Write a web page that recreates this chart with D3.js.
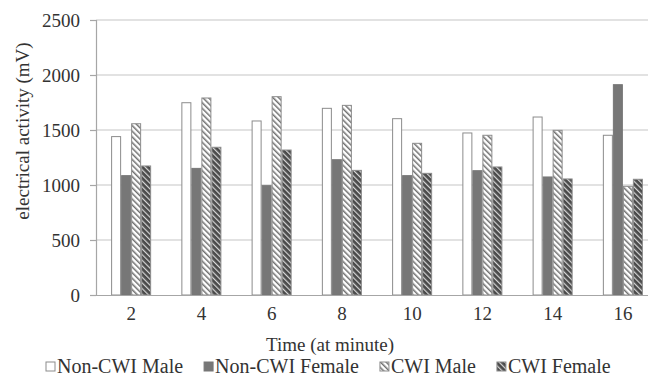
<!DOCTYPE html>
<html>
<head>
<meta charset="utf-8">
<script src="https://cdn.jsdelivr.net/npm/d3@7"></script>
</head>
<body style="margin:0; background:#fff">
<svg id="chart" width="648" height="378"></svg>
<script>
// Data
const minutes = ["2", "4", "6", "8", "10", "12", "14", "16"];
const seriesNames = ["Non-CWI Male", "Non-CWI Female", "CWI Male", "CWI Female"];
const nonCwiMale = [1440, 1748, 1582, 1697, 1603, 1473, 1618, 1452];
const nonCwiFemale = [1085, 1151, 994, 1230, 1085, 1130, 1073, 1912];
const cwiMale = [1557, 1791, 1803, 1724, 1379, 1452, 1497, 988];
const cwiFemale = [1173, 1343, 1318, 1133, 1106, 1164, 1055, 1052];
const yTicks = [0, 500, 1000, 1500, 2000, 2500];

const seriesValues = [nonCwiMale, nonCwiFemale, cwiMale, cwiFemale];
const serif = "'Liberation Serif', monospace";
const textColor = "#333333";

const svg = d3.select("#chart");

// Patterns
const defs = svg.append("defs");
const pMale = defs.append("pattern")
  .attr("id", "cwiMale")
  .attr("patternUnits", "userSpaceOnUse")
  .attr("width", 4).attr("height", 4)
  .attr("patternTransform", "rotate(-45)");
pMale.append("rect").attr("width", 4).attr("height", 4).attr("fill", "#ffffff");
pMale.append("rect").attr("x", 0).attr("width", 1.5).attr("height", 4).attr("fill", "#707070");

const pFemale = defs.append("pattern")
  .attr("id", "cwiFemale")
  .attr("patternUnits", "userSpaceOnUse")
  .attr("width", 4).attr("height", 4)
  .attr("patternTransform", "rotate(-45)");
pFemale.append("rect").attr("width", 4).attr("height", 4).attr("fill", "#4a4a4a");
pFemale.append("rect").attr("x", 0).attr("width", 1.2).attr("height", 4).attr("fill", "#d8d8d8");

const fills = ["#ffffff", "#777777", "url(#cwiMale)", "url(#cwiFemale)"];
const strokes = ["#8c8c8c", "#777777", "#8c8c8c", "#8c8c8c"];

// Scales
const plotLeft = 96, plotRight = 658, plotTop = 20, plotBottom = 295;
const y = d3.scaleLinear().domain([0, 2500]).range([plotBottom, plotTop]);
const x0 = d3.scaleBand().domain(minutes).range([plotLeft, plotRight]).padding(0);
const x1 = d3.scaleBand().domain(seriesNames).range([0, x0.bandwidth()])
  .paddingInner(0).paddingOuter(1.51);

// Gridlines
svg.append("g")
  .selectAll("line")
  .data(yTicks.filter(d => d > 0))
  .join("line")
  .attr("x1", plotLeft).attr("x2", 648)
  .attr("y1", d => y(d)).attr("y2", d => y(d))
  .attr("stroke", "#c6c6c6").attr("stroke-width", 1.2);

// Y axis
const yAxis = svg.append("g")
  .attr("transform", `translate(${plotLeft},0)`)
  .call(d3.axisLeft(y).tickValues(yTicks).tickFormat(d3.format("d")).tickSize(6).tickPadding(10))
  .attr("font-family", null);
yAxis.select(".domain").attr("stroke", "#a6a6a6").attr("stroke-width", 1.2);
yAxis.selectAll(".tick line").attr("stroke", "#a6a6a6").attr("stroke-width", 1.2);
yAxis.selectAll(".tick text")
  .style("font-family", serif)
  .attr("font-size", 19)
  .attr("fill", textColor);

// Bars
const groups = svg.append("g")
  .selectAll("g")
  .data(minutes)
  .join("g")
  .attr("transform", d => `translate(${x0(d)},0)`);

groups.selectAll("rect")
  .data((m, i) => seriesNames.map((s, j) => ({ s: s, j: j, v: seriesValues[j][i] })))
  .join("rect")
  .attr("x", d => x1(d.s) + 0.5)
  .attr("y", d => y(d.v))
  .attr("width", x1.bandwidth() - 1)
  .attr("height", d => y(0) - y(d.v))
  .attr("fill", d => fills[d.j])
  .attr("stroke", d => strokes[d.j])
  .attr("stroke-width", 1);

// X axis
const xAxis = svg.append("g")
  .attr("transform", `translate(0,${plotBottom})`)
  .call(d3.axisBottom(x0).tickSize(0).tickPadding(12))
  .attr("font-family", null);
xAxis.select(".domain").attr("stroke", "#a6a6a6").attr("stroke-width", 1.2);
xAxis.selectAll(".tick text")
  .style("font-family", serif)
  .attr("font-size", 19)
  .attr("fill", textColor);

// Axis titles
svg.append("text")
  .attr("x", 330).attr("y", 351)
  .attr("text-anchor", "middle")
  .style("font-family", serif)
  .attr("font-size", 19)
  .attr("fill", textColor)
  .text("Time (at minute)");

svg.append("text")
  .attr("transform", "translate(29,131) rotate(-90)")
  .attr("text-anchor", "middle")
  .style("font-family", serif)
  .attr("font-size", 19)
  .attr("fill", textColor)
  .text("electrical activity (mV)");

// Legend
const legend = svg.append("g").attr("transform", "translate(0,373)");
let lx = 46;
seriesNames.forEach((name, j) => {
  legend.append("rect")
    .attr("x", lx).attr("y", -11)
    .attr("width", 9).attr("height", 9)
    .attr("fill", fills[j])
    .attr("stroke", strokes[j]).attr("stroke-width", 1);
  const t = legend.append("text")
    .attr("x", lx + 11).attr("y", 0)
    .style("font-family", serif)
    .attr("font-size", 20)
    .attr("fill", textColor)
    .text(name);
  lx += 11 + t.node().getComputedTextLength() + 21;
});
</script>
</body>
</html>
